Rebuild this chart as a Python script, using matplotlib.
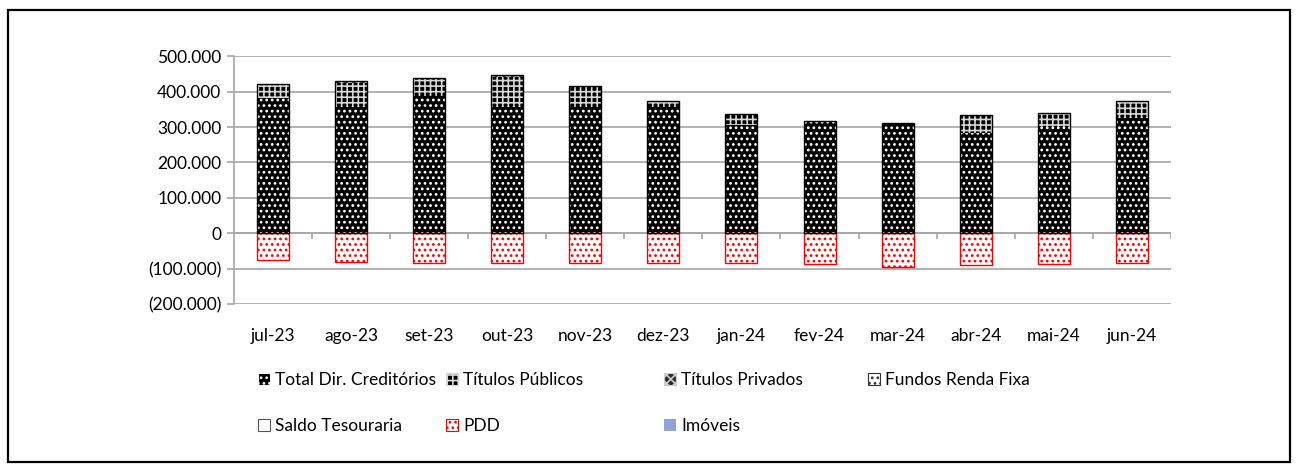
import numpy as np
import matplotlib
matplotlib.use("Agg")
import matplotlib.pyplot as plt
from matplotlib.patches import Rectangle, Patch
from matplotlib.ticker import FuncFormatter

plt.rcParams['font.family'] = ['Lato', 'DejaVu Sans']
plt.rcParams['hatch.linewidth'] = 1.2

meses = ['jul-23', 'ago-23', 'set-23', 'out-23', 'nov-23', 'dez-23',
         'jan-24', 'fev-24', 'mar-24', 'abr-24', 'mai-24', 'jun-24']

# valores em R$ mil
dir_creditorios = [381000, 359600, 387800, 359600, 357700, 357700,
                   306000, 315000, 310600, 282000, 299000, 329000]
titulos_publicos = [38000, 66000, 49000, 81000, 56000, 14000,
                    30000, 0, 0, 50000, 38000, 45000]
titulos_privados = [3000, 4000, 3000, 6000, 2000, 3000,
                    1000, 1000, 1000, 1000, 2000, 1000]
fundos_renda_fixa = [0] * 12
saldo_tesouraria = [0] * 12
pdd = [-75000, -80000, -83000, -83000, -83000, -85000,
       -85000, -87000, -94000, -90000, -87000, -85000]
imoveis = [0] * 12

fig = plt.figure(figsize=(12.98, 4.67), dpi=100)
ax = fig.add_axes([0.1803, 0.349, 0.902 - 0.1803, 0.8794 - 0.349])

x = np.arange(len(meses))
w = 0.41

estilos = {
    'Total Dir. Creditórios': dict(facecolor='black', edgecolor='white', hatch='...'),
    'Títulos Públicos': dict(facecolor='black', edgecolor='#d8d8d8', hatch='+++'),
    'Títulos Privados': dict(facecolor='#2a2a2a', edgecolor='#cccccc', hatch='xxxx'),
    'Fundos Renda Fixa': dict(facecolor='white', edgecolor='#333333', hatch='...'),
    'Saldo Tesouraria': dict(facecolor='white', edgecolor='#555555', hatch='.'),
    'PDD': dict(facecolor='white', edgecolor='red', hatch='...'),
    'Imóveis': dict(facecolor='#8ea6d4', edgecolor='#8ea6d4'),
}

series = [('Total Dir. Creditórios', dir_creditorios),
          ('Títulos Públicos', titulos_publicos),
          ('Títulos Privados', titulos_privados),
          ('Fundos Renda Fixa', fundos_renda_fixa),
          ('Saldo Tesouraria', saldo_tesouraria),
          ('Imóveis', imoveis)]

base = np.zeros(len(meses))
for nome, vals in series:
    vals = np.array(vals, dtype=float)
    ax.bar(x, vals, w, bottom=base, linewidth=0, zorder=3, **estilos[nome])
    base += vals
# contorno da pilha positiva
ax.bar(x, base, w, fill=False, edgecolor='black', linewidth=1, zorder=4)
ax.bar(x, pdd, w, linewidth=1, zorder=3, **estilos['PDD'])

ax.set_xlim(-0.5, len(meses) - 0.5)
ax.set_ylim(-200000, 500000)
ax.set_yticks(np.arange(-200000, 500001, 100000))


def fmt(v, _):
    if v == 0:
        return '0'
    s = f'{abs(v):,.0f}'.replace(',', '.')
    return f'({s})' if v < 0 else s


ax.yaxis.set_major_formatter(FuncFormatter(fmt))
ax.grid(axis='y', color='#a6a6a6', linewidth=1.2, zorder=0)
ax.set_axisbelow(True)
for s in ['top', 'right', 'bottom']:
    ax.spines[s].set_visible(False)
ax.spines['left'].set_color('#a6a6a6')
ax.spines['left'].set_linewidth(1.2)
ax.tick_params(axis='y', colors='#a6a6a6', length=5, width=1.2, labelsize=12.5,
               labelcolor='black', pad=4)
ax.set_xticks(x)
ax.set_xticklabels(meses)
ax.tick_params(axis='x', length=0, labelsize=12.5, pad=17)

# eixo horizontal em zero com marcas entre categorias
ax.axhline(0, color='#a6a6a6', linewidth=1.2, zorder=2)
ax.vlines(np.arange(0.5, len(meses), 1), -15000, 0, color='#a6a6a6', linewidth=1.2, zorder=2)

# legenda em colunas posicionadas manualmente
colunas = [(258, ['Total Dir. Creditórios', 'Saldo Tesouraria']),
           (446, ['Títulos Públicos', 'PDD']),
           (664, ['Títulos Privados', 'Imóveis']),
           (868, ['Fundos Renda Fixa'])]
for px, nomes in colunas:
    hs = [Patch(label=n, linewidth=0.8 if n != 'Imóveis' else 0, **estilos[n]) for n in nomes]
    leg = fig.legend(handles=hs, loc='upper left', bbox_to_anchor=(px / 1298, 1 - 372 / 467),
                     frameon=False, fontsize=12.5, handlelength=0.7, handleheight=0.7,
                     handletextpad=0.3, labelspacing=1.72, borderaxespad=0, borderpad=0)

fig.patches.append(Rectangle((8 / 1298, 1 - 462 / 467), 1282 / 1298, 452 / 467,
                             transform=fig.transFigure, fill=False, edgecolor='black',
                             linewidth=1.6))

fig.savefig('out.png', dpi=100)
